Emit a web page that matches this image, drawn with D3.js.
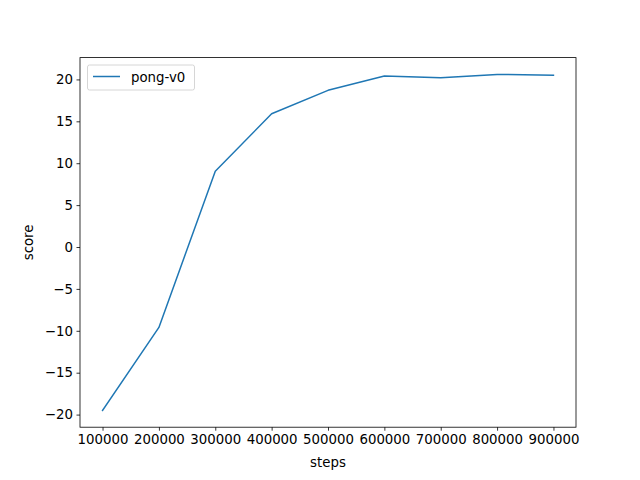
<!DOCTYPE html>
<html><head><meta charset="utf-8">
<script src="https://cdn.jsdelivr.net/npm/d3@7"></script>
<style>body{margin:0;background:#fff}svg{display:block}text{font-family:"DejaVu Sans",sans-serif}</style>
</head><body>
<svg id="c" width="640" height="480"></svg>
<script>
const steps = [100000, 200000, 300000, 400000, 500000, 600000, 700000, 800000, 900000];
const scores = [-19.5, -9.6, 9.05, 15.9, 18.7, 20.4, 20.2, 20.6, 20.5];
const xTicks = [100000, 200000, 300000, 400000, 500000, 600000, 700000, 800000, 900000];
const yTicks = [-20, -15, -10, -5, 0, 5, 10, 15, 20];
const seriesName = "pong-v0";

const svg = d3.select("#c");
const L = 80, R = 576, T = 57.6, B = 427.2;
const xmin = d3.min(steps), xmax = d3.max(steps), xr = xmax - xmin;
const ymin = d3.min(scores), ymax = d3.max(scores), yr = ymax - ymin;
const x = d3.scaleLinear().domain([xmin - 0.05*xr, xmax + 0.05*xr]).range([L, R]);
const y = d3.scaleLinear().domain([ymin - 0.05*yr, ymax + 0.05*yr]).range([B, T]);
const fmtY = d => (d < 0 ? "\u2212" + Math.abs(d) : String(d));

const xa = svg.append("g").attr("transform", `translate(0,${B})`)
  .call(d3.axisBottom(x).tickValues(xTicks).tickSize(3.5).tickPadding(3.5).tickFormat(d => String(d)));
const ya = svg.append("g").attr("transform", `translate(${L},0)`)
  .call(d3.axisLeft(y).tickValues(yTicks).tickSize(3.5).tickPadding(3.5).tickFormat(fmtY));
[xa, ya].forEach(a => {
  a.select(".domain").remove();
  a.selectAll("line").attr("stroke", "#000").attr("stroke-width", 0.8);
  a.selectAll("text").attr("font-size", "13.33px").attr("fill", "#000").attr("font-family", "DejaVu Sans");
});

const line = d3.line().x((d, i) => x(steps[i])).y(d => y(d));
svg.append("path").datum(scores).attr("d", line)
  .attr("fill", "none").attr("stroke", "#1f77b4").attr("stroke-width", 1.5)
  .attr("stroke-linejoin", "round").attr("stroke-linecap", "square");

svg.append("rect").attr("x", L).attr("y", T).attr("width", R - L).attr("height", B - T)
  .attr("fill", "none").attr("stroke", "#000").attr("stroke-width", 0.8);

svg.append("text").attr("x", (L + R) / 2).attr("y", 467).attr("text-anchor", "middle")
  .attr("font-size", "13.33px").text("steps");
svg.append("text").attr("transform", `translate(33,${(T + B) / 2}) rotate(-90)`)
  .attr("text-anchor", "middle").attr("font-size", "13.33px").text("score");

const lg = svg.append("g");
lg.append("rect").attr("x", 87.5).attr("y", 65).attr("width", 107).attr("height", 25)
  .attr("rx", 2).attr("fill", "#fff").attr("fill-opacity", 0.8)
  .attr("stroke", "#ccc").attr("stroke-width", 0.8);
lg.append("line").attr("x1", 93).attr("x2", 120).attr("y1", 76.5).attr("y2", 76.5)
  .attr("stroke", "#1f77b4").attr("stroke-width", 1.5);
lg.append("text").attr("x", 131).attr("y", 81.5).attr("font-size", "13.33px").text(seriesName);
</script>
</body></html>
